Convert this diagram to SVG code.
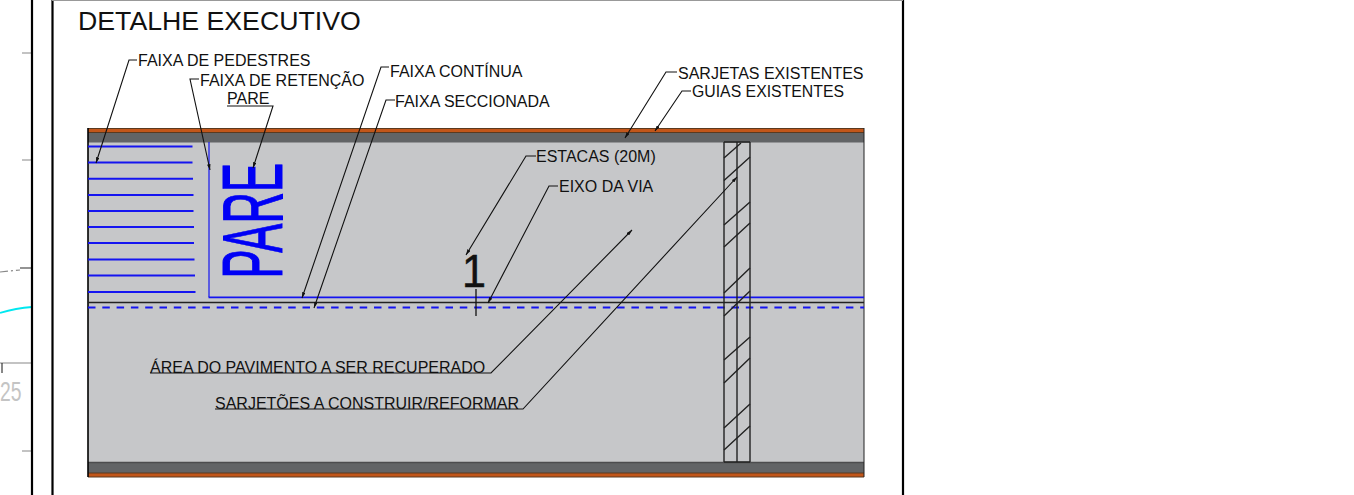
<svg xmlns="http://www.w3.org/2000/svg" width="1354" height="495" viewBox="0 0 1354 495">
<style>
text{font-family:"Liberation Sans",Arial,sans-serif;fill:#111}
.lb{font-size:16px}
.ld{fill:none;stroke:#111;stroke-width:1.1}
.bl{stroke:#1414f0;stroke-width:2;fill:none}
.fr{stroke:#000;stroke-width:2.200;fill:none}
.tk{stroke:#888;stroke-width:1.2;fill:none}
.ha{stroke:#222;stroke-width:1.4;fill:none}
</style>
<defs>
<marker id="ah" viewBox="0 0 10 6" refX="10" refY="3" markerWidth="6" markerHeight="3.500" orient="auto" markerUnits="userSpaceOnUse"><path d="M0 0L10 3L0 6Z" fill="#111"/></marker>
</defs>
<rect width="1354" height="495" fill="#fff"/>
<g id="sheet">
<path class="tk" d="M22 53H32M22 160H32M22 451H32M0 363H32"/>
<path d="M2 363V373" stroke="#111" fill="none"/>
<path d="M0 272L20 270" stroke="#888" stroke-width="1.2" stroke-dasharray="8 3 2 3" fill="none"/>
<path d="M20 268H32" stroke="#888" stroke-width="1.8" fill="none"/>
<path d="M0 313Q16 308 32 307" stroke="#00e8f0" stroke-width="1.8" fill="none"/>
<text x="0" y="401" font-size="27" textLength="21.500" lengthAdjust="spacingAndGlyphs" style="fill:#c4c4c4">25</text>
<path class="fr" d="M32 0V495M52.500 0V495M903 0V495"/>
<path d="M52 0.500H903" stroke="#999" stroke-width="1.2"/>
<text x="78" y="30" font-size="26.700">DETALHE EXECUTIVO</text>
</g>
<g id="road">
<rect x="88" y="142" width="776" height="320" fill="#c6c7c9"/>
<rect x="88" y="128" width="776" height="4.500" fill="#c2561a"/>
<path d="M88 128.500H864M88 132.500H864" stroke="#5a3a20" stroke-width="1"/>
<rect x="88" y="133" width="776" height="9.500" fill="#626466"/>
<rect x="88" y="462" width="776" height="11" fill="#626466"/>
<path d="M88 462.500H864" stroke="#4c4c4e" stroke-width="1.500"/>
<rect x="88" y="473" width="776" height="4" fill="#c2561a"/>
<path d="M88 473H864M88 477H864" stroke="#5a3a20" stroke-width="1"/>
<path d="M88 128V477" stroke="#000" stroke-width="1.600"/>
<path d="M864 128V477" stroke="#222" stroke-width="1"/>
<path d="M88 302.500H864" stroke="#222" stroke-width="1.400"/>
</g>
<g id="markings">
<path class="bl" d="M88 146.500H192.500M88 162.500H192.500M88 178.800H193M88 195H193.500M88 211H193.500M88 227H194M88 243H194M88 259.500H194.500M88 275.500H195M88 292H195.500"/>
<path d="M209 142V297" stroke="#1414f0" stroke-width="1.200" fill="none"/>
<path d="M208.500 297.300H864" stroke="#1414f0" stroke-width="1.800" fill="none"/>
<path d="M88 307.500H864" stroke="#1414f0" stroke-width="2" stroke-dasharray="7.500 6.800" fill="none"/>
<text transform="translate(282 278.500) rotate(-90) scale(.507 1)" font-size="86" stroke="#0000f5" stroke-width="1" style="fill:#0000f5">PARE</text>
</g>
<g id="sarjetoes">
<path class="ha" d="M724 142H750M724 142V462M737 142V462M750 142V462M724 462H750"/>
<path class="ha" d="M724 158L741 143M724 180.500L750 157M724 225L750 202M724 247L750 223M724 293L750 268M724 316L750 291M724 360L750 337M724 383L750 358M724 428L750 404M724 450L750 426"/>
</g>
<g id="estaca">
<text x="462" y="287" font-size="47" textLength="24" lengthAdjust="spacingAndGlyphs" stroke="#111" stroke-width=".5">1</text>
<path d="M476 289V316" stroke="#111" stroke-width="1.300" fill="none"/>
</g>
<g id="connectors">
<path class="ld" d="M137 60H129L96 163" marker-end="url(#ah)"/>
<path class="ld" d="M199 79H190L210 170" marker-end="url(#ah)"/>
<path class="ld" d="M227 106H273L253 168" marker-end="url(#ah)"/>
<path class="ld" d="M389 67H381L302 298" marker-end="url(#ah)"/>
<path class="ld" d="M395 100H386L314 308" marker-end="url(#ah)"/>
<path class="ld" d="M677 72H666L625 138" marker-end="url(#ah)"/>
<path class="ld" d="M691 91H682L655 131" marker-end="url(#ah)"/>
<path class="ld" d="M536 156H526L466 255" marker-end="url(#ah)"/>
<path class="ld" d="M558 186H549L488 303" marker-end="url(#ah)"/>
<path class="ld" d="M150 373H491L632 230" marker-end="url(#ah)"/>
<path class="ld" d="M215 409H523L737 177" marker-end="url(#ah)"/>
</g>
<g id="label-faixa-pedestres"><text class="lb" x="138" y="66">FAIXA DE PEDESTRES</text></g>
<g id="label-faixa-retencao"><text class="lb" x="200" y="85.500">FAIXA DE RETENÇÃO</text></g>
<g id="label-pare"><text class="lb" x="227" y="104">PARE</text></g>
<g id="label-faixa-continua"><text class="lb" x="390" y="76.500">FAIXA CONTÍNUA</text></g>
<g id="label-faixa-seccionada"><text class="lb" x="395" y="106.500">FAIXA SECCIONADA</text></g>
<g id="label-sarjetas"><text class="lb" x="678" y="78.500">SARJETAS EXISTENTES</text></g>
<g id="label-guias"><text class="lb" x="692" y="97" textLength="152" lengthAdjust="spacingAndGlyphs">GUIAS EXISTENTES</text></g>
<g id="label-estacas"><text class="lb" x="536" y="161.500">ESTACAS (20M)</text></g>
<g id="label-eixo"><text class="lb" x="559" y="191.500">EIXO DA VIA</text></g>
<g id="label-area"><text class="lb" x="150" y="373">ÁREA DO PAVIMENTO A SER RECUPERADO</text></g>
<g id="label-sarjetoes"><text class="lb" x="215" y="408.500">SARJETÕES A CONSTRUIR/REFORMAR</text></g>
</svg>
